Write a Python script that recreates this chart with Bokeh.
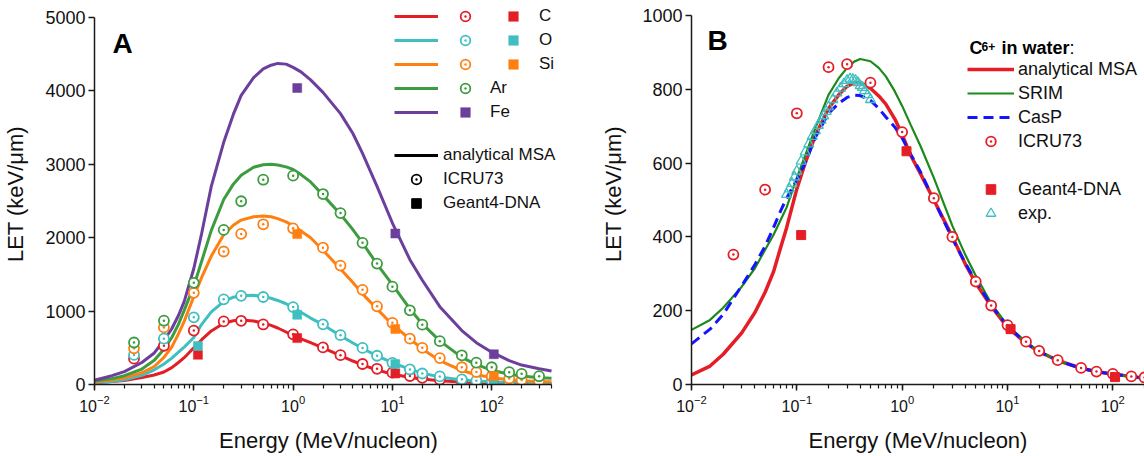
from bokeh.plotting import figure
from bokeh.models import Range1d, Legend, LegendItem, Label
from bokeh.layouts import row
from bokeh.embed import file_html
from bokeh.resources import INLINE

FONT = "Liberation Sans"
NAN = float("nan")

# ---------------- Panel A data ----------------
E_MSA_A = [0.01, 0.015, 0.02, 0.03, 0.04, 0.05, 0.06, 0.07, 0.08, 0.1,
           0.12, 0.15, 0.2, 0.25, 0.3, 0.4, 0.5, 0.6, 0.7, 0.85,
           1, 1.2, 1.5, 2, 3, 4, 5, 7, 10, 15,
           20, 30, 50, 70, 100, 150, 200, 300, 400]
msa_C = [25, 40, 55, 95, 130, 170, 230, 300, 365, 500,
         610, 730, 835, 868, 878, 865, 838, 805, 770, 715,
         665, 622, 570, 500, 392, 320, 268, 198, 142, 96,
         74, 50, 33, 26, 20, 15, 13, 10, 9]
msa_O = [25, 42, 65, 125, 200, 280, 360, 440, 510, 640,
         820, 990, 1130, 1190, 1210, 1215, 1200, 1175, 1145, 1100,
         1050, 985, 905, 815, 665, 565, 490, 390, 298, 207,
         155, 102, 62, 47, 34, 26, 21, 16, 14]
msa_Si = [35, 60, 90, 160, 245, 370, 510, 690, 860, 1200,
          1460, 1750, 2040, 2170, 2240, 2285, 2295, 2285, 2260, 2215,
          2165, 2090, 2000, 1830, 1575, 1390, 1235, 1030, 815, 620,
          485, 325, 190, 133, 95, 62, 50, 40, 36]
msa_Ar = [48, 80, 120, 210, 330, 480, 640, 820, 1010, 1340,
          1680, 2100, 2520, 2730, 2850, 2960, 2995, 3000, 2990, 2965,
          2930, 2860, 2760, 2580, 2320, 2110, 1930, 1640, 1360, 1030,
          825, 595, 370, 270, 195, 140, 116, 93, 85]
msa_Fe = [57, 120, 175, 300, 430, 600, 760, 940, 1130, 1580,
          2060, 2700, 3300, 3680, 3940, 4180, 4300, 4350, 4375, 4365,
          4320, 4260, 4150, 3980, 3690, 3420, 3150, 2700, 2200, 1700,
          1420, 1060, 735, 570, 440, 325, 265, 215, 184]

E_ICRU = [0.025, 0.05, 0.1, 0.2, 0.3, 0.5, 1, 2, 3, 5, 7, 10, 15, 20, 30, 50, 70, 100, 150, 200, 300]
icru_C = [352, 528, 735, 860, 868, 818, 684, 505, 400, 279, 214, 161, 116, 91, 66, 45, 35, 29, 22, 19, 15]
icru_O = [403, 625, 915, 1160, 1208, 1192, 1055, 820, 672, 498, 392, 295, 205, 150, 110, 70, 52, 40, 31, 26, 20]
icru_Si = [493, 778, 1249, 1812, 2052, 2183, 2128, 1864, 1620, 1290, 1065, 840, 625, 500, 360, 235, 170, 112, 82, 63, 48]
icru_Ar = [572, 869, 1385, 2106, 2497, 2790, 2845, 2595, 2335, 1930, 1647, 1333, 1010, 815, 590, 398, 298, 235, 168, 145, 113]

E_G4_4 = [0.11, 1.1, 10.7, 105]
E_G4_3 = [1.1, 10.7, 105]
g4_C = [405, 632, 150, 20]
g4_O = [525, 950, 278, 40]
g4_Si = [2049, 755, 116]
g4_Fe = [4040, 2057, 412]

# ---------------- Panel B data ----------------
E_B = [0.01, 0.015, 0.02, 0.03, 0.04, 0.05, 0.06, 0.07, 0.08, 0.1,
       0.12, 0.15, 0.2, 0.25, 0.3, 0.35, 0.4, 0.5, 0.6, 0.7,
       0.85, 1, 1.2, 1.5, 2, 3, 4, 5, 7, 10,
       15, 20, 30, 50, 70, 100, 150, 200]
msa_B = [26, 50, 82, 140, 195, 250, 305, 370, 425, 530,
         600, 675, 748, 785, 808, 818, 818, 803, 782, 760,
         720, 678, 622, 570, 500, 400, 325, 275, 212, 155,
         112, 89, 65, 44, 35, 28, 22, 17]
srim_B = [148, 175, 208, 265, 315, 365, 405, 445, 480, 560,
          620, 695, 785, 830, 858, 875, 882, 876, 858, 835,
          795, 755, 705, 645, 560, 430, 350, 295, 220, 160,
          115, 90, 64, 44, 34, 27, 21, 17]
casp_B = [110, 150, 190, 268, 325, 375, 425, 470, 505, 555,
          600, 670, 735, 762, 778, 784, 783, 770, 748, 725,
          698, 668, 625, 575, 500, 395, 328, 280, 215, 158,
          113, 89, 65, 44, 35, 28, 22, 17]
E_EXP = [0.08, 0.085, 0.09, 0.095, 0.10, 0.11, 0.12, 0.13, 0.14, 0.15, 0.16, 0.17, 0.18, 0.19,
         0.20, 0.22, 0.24, 0.26, 0.28, 0.30, 0.32, 0.34, 0.36, 0.38, 0.40, 0.42, 0.44, 0.47, 0.50]
exp_B = [515, 530, 545, 562, 578, 605, 630, 652, 672, 688, 702, 716, 728, 740,
         752, 772, 790, 803, 815, 824, 828, 827, 824, 818, 810, 805, 796, 785, 772]

COL = {"C": "#e41e26", "O": "#40bfc0", "Si": "#ff8012", "Ar": "#3d9c3f", "Fe": "#6c3f9c"}
SRIM_COL = "#1b8a1b"
CASP_COL = "#1414ff"


def make_fig(width, xr, yr, xbounds, ybounds, yticks, left, right, top, ylab_standoff):
    p = figure(width=width, height=456, x_axis_type="log", title=None,
               x_range=Range1d(*xr), y_range=Range1d(*yr),
               output_backend="svg", toolbar_location=None,
               min_border_left=left, min_border_right=right,
               min_border_top=top, min_border_bottom=72)
    p.xgrid.grid_line_color = None
    p.ygrid.grid_line_color = None
    p.outline_line_color = None
    for ax in p.axis:
        ax.axis_line_width = 1.5
        ax.axis_line_color = "#1a1a1a"
        ax.major_tick_line_width = 1.5
        ax.major_tick_line_color = "#1a1a1a"
        ax.minor_tick_line_width = 1.2
        ax.minor_tick_line_color = "#1a1a1a"
        ax.major_tick_in = 0
        ax.major_tick_out = 6
        ax.minor_tick_in = 0
        ax.minor_tick_out = 4
        ax.major_label_text_font = FONT
        ax.major_label_text_color = "#111111"
        ax.axis_label_text_font = FONT
        ax.axis_label_text_font_size = "22px"
        ax.axis_label_text_font_style = "normal"
        ax.axis_label_text_color = "#111111"
    p.xaxis.major_label_text_font_size = "16px"
    p.yaxis.major_label_text_font_size = "18px"
    p.yaxis.minor_tick_line_color = None
    p.yaxis.ticker = yticks
    p.xaxis.bounds = xbounds
    p.yaxis.bounds = ybounds
    p.xaxis.axis_label = "Energy (MeV/nucleon)"
    p.yaxis.axis_label = "LET (keV/\u03bcm)"
    p.xaxis.major_label_standoff = 4
    p.xaxis.axis_label_standoff = 13
    p.yaxis.major_label_standoff = 3
    p.yaxis.axis_label_standoff = ylab_standoff
    return p


def legend(items, x, y, gw, fs, standoff):
    return Legend(items=items, location=(x, y), glyph_width=gw, glyph_height=24,
                  label_height=24, label_width=0, spacing=0, padding=0, margin=0,
                  label_standoff=standoff, border_line_color=None,
                  background_fill_alpha=0, inactive_fill_alpha=0, label_text_font=FONT,
                  label_text_font_size=fs, label_text_color="#111111")


def text(p, txt, x, y, fs, style="bold"):
    p.add_layout(Label(x=x, y=y, x_units="screen", y_units="screen", text=txt,
                       text_font=FONT, text_font_size=fs, text_font_style=style,
                       text_baseline="alphabetic", text_color="black"))


# ---------------- Panel A ----------------
# frame spans a little beyond the axes so the key is not cut; axes keep their bounds
pA = make_fig(598, (0.01, 516), (0, 5191), (0.01, 400), (0, 5000),
              [0, 1000, 2000, 3000, 4000, 5000], 92, 36, 3, 14)

lines = {}
for name, vals in [("C", msa_C), ("O", msa_O), ("Si", msa_Si), ("Ar", msa_Ar), ("Fe", msa_Fe)]:
    lines[name] = pA.line(E_MSA_A, vals, line_color=COL[name], line_width=3)

circ = {}
for name, vals in [("C", icru_C), ("O", icru_O), ("Si", icru_Si), ("Ar", icru_Ar)]:
    circ[name] = pA.scatter(E_ICRU, vals, marker="circle_dot", size=10, line_color=COL[name],
                            line_width=1.8, fill_color="white")

sq = {}
for name, ex, vals in [("C", E_G4_4, g4_C), ("O", E_G4_4, g4_O), ("Si", E_G4_3, g4_Si), ("Fe", E_G4_3, g4_Fe)]:
    sq[name] = pA.scatter(ex, vals, marker="square", size=9, line_color=COL[name],
                          fill_color=COL[name], line_width=0.5)

# legend-only key glyphs (no data)
blk_line = pA.line([NAN], [NAN], line_color="black", line_width=3)
blk_circ = pA.scatter([NAN], [NAN], marker="circle_dot", size=10, line_color="black",
                      line_width=1.8, fill_color="white")
blk_sq = pA.scatter([NAN], [NAN], marker="square", size=9, line_color="black", fill_color="black")

legA1 = legend([LegendItem(label="", renderers=[lines[n]]) for n in ["C", "O", "Si", "Ar", "Fe"]],
               300, 260, 44, "17px", 0)
legA2 = legend([LegendItem(label="", renderers=[circ["C"]]),
                LegendItem(label="", renderers=[circ["O"]]),
                LegendItem(label="", renderers=[circ["Si"]]),
                LegendItem(label="Ar", renderers=[circ["Ar"]]),
                LegendItem(label="Fe", renderers=[sq["Fe"]])],
               359, 260, 24, "17px", 13)
legA3 = legend([LegendItem(label="C", renderers=[sq["C"]]),
                LegendItem(label="O", renderers=[sq["O"]]),
                LegendItem(label="Si", renderers=[sq["Si"]])],
               407, 308, 24, "17px", 14)
legA4 = legend([LegendItem(label="analytical MSA", renderers=[blk_line]),
                LegendItem(label="ICRU73", renderers=[blk_circ]),
                LegendItem(label="Geant4-DNA", renderers=[blk_sq])],
               300, 169, 44, "17px", 5)
for lg in (legA1, legA2, legA3, legA4):
    pA.add_layout(lg)

text(pA, "A", 18, 341, "28px")

# ---------------- Panel B ----------------
pB = make_fig(546, (0.01, 200), (0, 1032.5), (0.01, 200), (0, 1000),
              [0, 200, 400, 600, 800, 1000], 89, 0, 3, 13)

rB_msa = pB.line(E_B, msa_B, line_color=COL["C"], line_width=3.5)
rB_srim = pB.line(E_B, srim_B, line_color=SRIM_COL, line_width=2.2)
rB_casp = pB.line(E_B, casp_B, line_color=CASP_COL, line_width=3, line_dash="10 6")
rB_icru = pB.scatter(E_ICRU, icru_C, marker="circle_dot", size=10, line_color=COL["C"],
                     line_width=1.8, fill_color="white")
rB_g4 = pB.scatter(E_G4_4, g4_C, marker="square", size=9, line_color=COL["C"], fill_color=COL["C"])
rB_exp = pB.scatter(E_EXP, exp_B, marker="triangle", size=10, line_color=COL["O"],
                    line_width=1.3, fill_color=None)

legB1 = legend([LegendItem(label="analytical MSA", renderers=[rB_msa]),
                LegendItem(label="SRIM", renderers=[rB_srim]),
                LegendItem(label="CasP", renderers=[rB_casp]),
                LegendItem(label="ICRU73", renderers=[rB_icru])],
               276, 231, 47, "18px", 4)
legB2 = legend([LegendItem(label="Geant4-DNA", renderers=[rB_g4]),
                LegendItem(label="exp.", renderers=[rB_exp])],
               276, 159, 47, "18px", 4)
pB.add_layout(legB1)
pB.add_layout(legB2)

text(pB, "C", 278, 336.5, "18px")
text(pB, "6+", 290, 338, "12px")
text(pB, "in water", 310, 336.5, "18px")
text(pB, ":", 378, 336.5, "18px", "normal")
text(pB, "B", 16, 344.5, "28px")

layout = row(pA, pB)
open("out.html", "w").write(file_html(layout, INLINE))
